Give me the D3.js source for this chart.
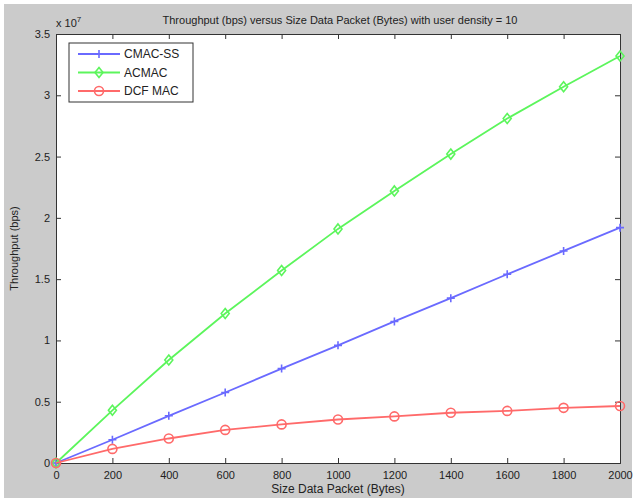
<html>
<head>
<script src="https://d3js.org/d3.v7.min.js"></script>
<style>
body { margin: 0; background: #fff; }
text { font-family: Arial, 'Liberation Sans', sans-serif; fill: #222; }
</style>
</head>
<body>
<svg></svg>
<script>
var width = 636, height = 500;

// data (throughput in units of 1e7 bps)
var packetSizes = [0, 200, 400, 600, 800, 1000, 1200, 1400, 1600, 1800, 2000];
var cmacSS = [0, 0.19, 0.385, 0.575, 0.77, 0.96, 1.155, 1.345, 1.54, 1.73, 1.92];
var acmac = [0, 0.43, 0.84, 1.22, 1.57, 1.91, 2.22, 2.52, 2.81, 3.07, 3.32];
var dcfMac = [0, 0.115, 0.2, 0.27, 0.315, 0.355, 0.38, 0.41, 0.425, 0.45, 0.465];
var seriesNames = ["CMAC-SS", "ACMAC", "DCF MAC"];
var xTicks = [0, 200, 400, 600, 800, 1000, 1200, 1400, 1600, 1800, 2000];
var yTicks = [0, 0.5, 1, 1.5, 2, 2.5, 3, 3.5];

var series = [
  { name: seriesNames[0], values: cmacSS, color: "#6a6aff", marker: "plus" },
  { name: seriesNames[1], values: acmac, color: "#5cf55c", marker: "diamond" },
  { name: seriesNames[2], values: dcfMac, color: "#ff6a6a", marker: "circle" }
];

// plot box (window.top is reserved, so use other names)
var pLeft = 56, pRight = 620, pTop = 34, pBottom = 463;

var svg = d3.select("svg").attr("width", width).attr("height", height);

// grey figure background
svg.append("rect").attr("x", 4).attr("y", 4).attr("width", width - 8).attr("height", height - 6)
  .style("fill", "#cbcbcb");
svg.append("rect").attr("x", pLeft).attr("y", pTop).attr("width", pRight - pLeft).attr("height", pBottom - pTop)
  .style("fill", "#fff");

var xScale = d3.scaleLinear().domain([0, 2000]).range([pLeft, pRight]);
var yScale = d3.scaleLinear().domain([0, 3.5]).range([pBottom, pTop]);

// inward ticks on all four sides, like matlab
var fmt = function (d) { return d; };
svg.append("g").attr("transform", "translate(0," + pBottom + ")")
  .call(d3.axisBottom(xScale).tickValues(xTicks).tickSize(-5).tickPadding(8).tickFormat(fmt));
svg.append("g").attr("transform", "translate(0," + pTop + ")")
  .call(d3.axisTop(xScale).tickValues(xTicks).tickSize(-5).tickFormat(""));
svg.append("g").attr("transform", "translate(" + pLeft + ",0)")
  .call(d3.axisLeft(yScale).tickValues(yTicks).tickSize(-5).tickPadding(6).tickFormat(fmt));
svg.append("g").attr("transform", "translate(" + pRight + ",0)")
  .call(d3.axisRight(yScale).tickValues(yTicks).tickSize(-5).tickFormat(""));

svg.selectAll(".domain").style("stroke", "#333");
svg.selectAll(".tick line").style("stroke", "#333");
svg.selectAll(".tick text").style("font-size", "11px").style("fill", "#222")
  .style("font-family", "Arial, 'Liberation Sans', sans-serif");

// series lines and markers
var line = d3.line()
  .x(function (d, i) { return xScale(packetSizes[i]); })
  .y(function (d) { return yScale(d); });

function drawMarker(g, type, x, y, color) {
  if (type === "plus") {
    g.append("path").attr("d", "M" + (x - 4) + "," + y + "H" + (x + 4) + "M" + x + "," + (y - 4) + "V" + (y + 4))
      .style("stroke", color).style("stroke-width", 1.6);
  } else if (type === "diamond") {
    g.append("path").attr("d", "M" + x + "," + (y - 5) + "L" + (x + 4) + "," + y + "L" + x + "," + (y + 5) + "L" + (x - 4) + "," + y + "Z")
      .style("stroke", color).style("fill", "none").style("stroke-width", 1.6);
  } else {
    g.append("circle").attr("cx", x).attr("cy", y).attr("r", 4.5)
      .style("stroke", color).style("fill", "none").style("stroke-width", 1.6);
  }
}

series.forEach(function (s) {
  var g = svg.append("g");
  g.append("path").datum(s.values).attr("d", line)
    .style("fill", "none").style("stroke", s.color).style("stroke-width", 1.8);
  s.values.forEach(function (v, i) {
    drawMarker(g, s.marker, xScale(packetSizes[i]), yScale(v), s.color);
  });
});

// legend
var legend = svg.append("g");
legend.append("rect").attr("x", 69).attr("y", 43).attr("width", 124).attr("height", 59)
  .style("fill", "#fff").style("stroke", "#333").style("stroke-width", 1);
series.forEach(function (s, i) {
  var y = 54 + i * 18.5;
  legend.append("line").attr("x1", 78).attr("x2", 120).attr("y1", y).attr("y2", y)
    .style("stroke", s.color).style("stroke-width", 1.8);
  drawMarker(legend, s.marker, 99, y, s.color);
  legend.append("text").attr("x", 124).attr("y", y + 4).text(s.name).style("font-size", "12px");
});

// titles
svg.append("text").attr("x", 340).attr("y", 24).attr("text-anchor", "middle")
  .style("font-size", "11px").text("Throughput (bps) versus Size Data Packet (Bytes) with user density = 10");
svg.append("text").attr("x", 338).attr("y", 493).attr("text-anchor", "middle")
  .style("font-size", "12px").text("Size Data Packet (Bytes)");
svg.append("text").attr("transform", "translate(18," + ((pTop + pBottom) / 2) + ") rotate(-90)")
  .attr("text-anchor", "middle").style("font-size", "11px").text("Throughput (bps)");
var exp = svg.append("text").attr("x", 56).attr("y", 27).style("font-size", "11px");
exp.append("tspan").text("x 10");
exp.append("tspan").attr("dy", -5).style("font-size", "8px").text("7");
</script>
</body>
</html>
